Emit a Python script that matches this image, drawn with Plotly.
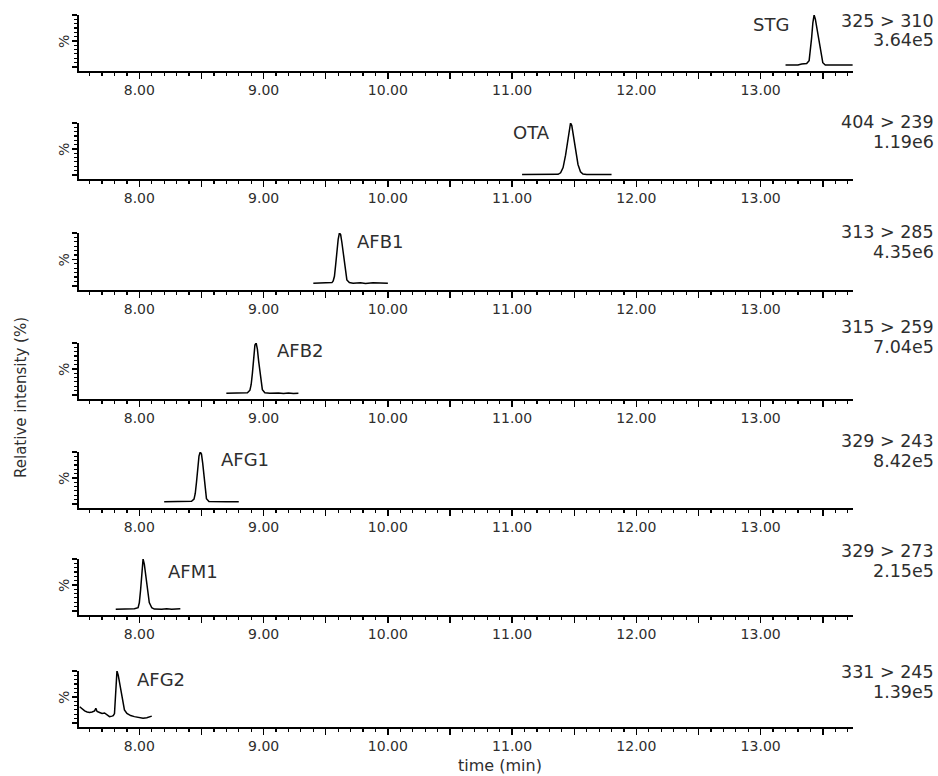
import plotly.graph_objects as go

# ---------------- data ----------------
compounds = ["STG", "OTA", "AFB1", "AFB2", "AFG1", "AFM1", "AFG2"]
transitions = ["325 > 310", "404 > 239", "313 > 285", "315 > 259", "329 > 243", "329 > 273", "331 > 245"]
max_intensity = ["3.64e5", "1.19e6", "4.35e6", "7.04e5", "8.42e5", "2.15e5", "1.39e5"]

stg_t = [13.20, 13.30, 13.33, 13.37, 13.39, 13.40, 13.41, 13.42, 13.43, 13.44, 13.45, 13.46, 13.47, 13.48, 13.50, 13.52, 13.60, 13.74]
stg_i = [3.5, 3.5, 5.5, 6.5, 12, 30, 56, 85, 100, 92, 78, 65, 52, 35, 8, 3.5, 3.5, 3.5]

ota_t = [11.08, 11.30, 11.37, 11.39, 11.41, 11.43, 11.45, 11.46, 11.47, 11.48, 11.49, 11.51, 11.53, 11.55, 11.57, 11.60, 11.70, 11.80]
ota_i = [0.5, 0.5, 1, 4, 14, 38, 72, 90, 100, 95, 80, 48, 20, 6, 1.5, 0.5, 0.5, 0.5]

afb1_t = [9.40, 9.52, 9.55, 9.56, 9.57, 9.58, 9.59, 9.60, 9.61, 9.62, 9.63, 9.64, 9.65, 9.66, 9.67, 9.69, 9.72, 9.78, 9.82, 9.88, 9.94, 10.00]
afb1_i = [5, 5, 6, 9, 18, 40, 65, 88, 100, 97, 82, 62, 40, 22, 11, 6, 5, 5.5, 4.5, 5.5, 5, 5]

afb2_t = [8.70, 8.80, 8.87, 8.89, 8.90, 8.91, 8.92, 8.93, 8.94, 8.95, 8.96, 8.97, 8.98, 8.99, 9.01, 9.05, 9.12, 9.16, 9.20, 9.24, 9.28]
afb2_i = [3, 3.5, 4, 9, 20, 42, 72, 96, 100, 88, 65, 42, 22, 10, 4, 3, 3.5, 2.5, 3.5, 2.5, 3]

afg1_t = [8.20, 8.35, 8.42, 8.44, 8.45, 8.46, 8.47, 8.48, 8.49, 8.50, 8.51, 8.52, 8.53, 8.54, 8.56, 8.60, 8.70, 8.80]
afg1_i = [4, 4, 5, 9, 20, 42, 70, 92, 100, 96, 78, 52, 26, 10, 4.5, 4, 4, 4]

afm1_t = [7.81, 7.90, 7.96, 7.99, 8.00, 8.01, 8.02, 8.03, 8.04, 8.05, 8.06, 8.07, 8.08, 8.10, 8.12, 8.18, 8.22, 8.26, 8.30, 8.33]
afm1_i = [3, 3.5, 4, 6, 16, 40, 78, 100, 90, 72, 52, 32, 16, 6, 3.5, 3, 4, 3, 3.5, 4]

afg2_t = [7.52, 7.54, 7.56, 7.58, 7.60, 7.62, 7.64, 7.65, 7.66, 7.68, 7.70, 7.72, 7.74, 7.76, 7.78, 7.79, 7.80, 7.81, 7.82, 7.83, 7.84, 7.85, 7.86, 7.88, 7.90, 7.93, 7.96, 8.00, 8.03, 8.06, 8.08, 8.10]
afg2_i = [31, 27, 23, 21, 20, 21, 23, 28, 22, 20, 18, 19, 15, 12, 13, 14, 18, 55, 100, 92, 78, 60, 45, 25, 18, 14, 12, 10, 9, 10, 12, 13]

x_major = [7.5, 8.0, 8.5, 9.0, 9.5, 10.0, 10.5, 11.0, 11.5, 12.0, 12.5, 13.0, 13.5]
x_labels = ["", "8.00", "", "9.00", "", "10.00", "", "11.00", "", "12.00", "", "13.00", ""]

series = [(stg_t, stg_i), (ota_t, ota_i), (afb1_t, afb1_i), (afb2_t, afb2_i),
          (afg1_t, afg1_i), (afm1_t, afm1_i), (afg2_t, afg2_i)]

# ---------------- layout geometry (pixels) ----------------
W, H = 938, 776
panel_top = [15, 123, 233, 343, 452, 559, 671]
panel_bot = [71, 179, 290, 399, 508, 615, 727]
x_left, x_right = 78.7, 853
label_pos = [(771, 25), (531, 132), (380, 241), (300, 351), (245, 459), (193, 571), (161, 679)]
right_pos = [(21, 40), (122, 142), (232, 252), (327, 347), (441, 461), (551, 571), (672, 692)]

FONT = "DejaVu Sans"
TXT = "#2e2e2e"

fig = go.Figure()
layout = dict(
    width=W, height=H, margin=dict(l=0, r=0, t=0, b=0),
    paper_bgcolor="white", plot_bgcolor="white", showlegend=False,
    font=dict(family=FONT, color=TXT),
)
annotations = []

def px(x):
    return x / W

def py(y):
    return 1 - y / H

for i, (t, v) in enumerate(series):
    n = "" if i == 0 else str(i + 1)
    fig.add_trace(go.Scatter(x=t, y=v, mode="lines", line=dict(color="black", width=1.5),
                             xaxis="x" + n, yaxis="y" + n, hoverinfo="skip"))
    layout["xaxis" + n] = dict(
        domain=[px(x_left), px(x_right)], range=[7.512, 13.743], anchor="y" + n,
        showline=True, linecolor="black", linewidth=1.5,
        ticks="outside", ticklen=6, tickwidth=1.5, tickcolor="black",
        tickmode="array", tickvals=x_major, ticktext=x_labels,
        tickfont=dict(family=FONT, size=14, color=TXT),
        minor=dict(tickmode="linear", tick0=7.5, dtick=0.1, ticks="outside",
                   ticklen=3, tickwidth=1.2, tickcolor="black", showgrid=False),
        showgrid=False, zeroline=False,
    )
    layout["yaxis" + n] = dict(
        domain=[py(panel_bot[i]), py(panel_top[i])], range=[-8, 100], anchor="x" + n,
        showline=True, linecolor="black", linewidth=1.5,
        ticks="outside", ticklen=5, tickwidth=1.5, tickcolor="black",
        tickmode="array", tickvals=[0, 50, 100], showticklabels=False,
        minor=dict(tickmode="linear", tick0=0, dtick=100 / 12, ticks="outside",
                   ticklen=3, tickwidth=1.2, tickcolor="black", showgrid=False),
        showgrid=False, zeroline=False,
    )
    # "%" label
    annotations.append(dict(x=px(64), y=py((panel_top[i] + panel_bot[i]) / 2 - 1), xref="paper", yref="paper",
                            text="%", textangle=-90, showarrow=False,
                            font=dict(family=FONT, size=14, color=TXT),
                            xanchor="center", yanchor="middle"))
    # compound label
    lx, ly = label_pos[i]
    annotations.append(dict(x=px(lx), y=py(ly), xref="paper", yref="paper", text=compounds[i],
                            showarrow=False, font=dict(family=FONT, size=18, color=TXT),
                            xanchor="center", yanchor="middle"))
    # transition and intensity labels
    r1, r2 = right_pos[i]
    annotations.append(dict(x=px(936), y=py(r1), xref="paper", yref="paper", text=transitions[i],
                            showarrow=False, font=dict(family=FONT, size=17.5, color=TXT),
                            xanchor="right", yanchor="middle"))
    annotations.append(dict(x=px(936), y=py(r2), xref="paper", yref="paper", text=max_intensity[i],
                            showarrow=False, font=dict(family=FONT, size=17.5, color=TXT),
                            xanchor="right", yanchor="middle"))

annotations.append(dict(x=px(21), y=py(398), xref="paper", yref="paper", text="Relative intensity (%)",
                        textangle=-90, showarrow=False, font=dict(family=FONT, size=15, color=TXT),
                        xanchor="center", yanchor="middle"))
annotations.append(dict(x=px(500), y=py(765), xref="paper", yref="paper", text="time (min)",
                        showarrow=False, font=dict(family=FONT, size=16, color=TXT),
                        xanchor="center", yanchor="middle"))

layout["annotations"] = annotations
fig.update_layout(**layout)
# remove the default page margin so the 938x776 figure fills the window exactly
fig.write_html("out.html", config={"displayModeBar": False, "staticPlot": True},
               post_script="document.body.style.margin='0';document.body.style.overflow='hidden';")
